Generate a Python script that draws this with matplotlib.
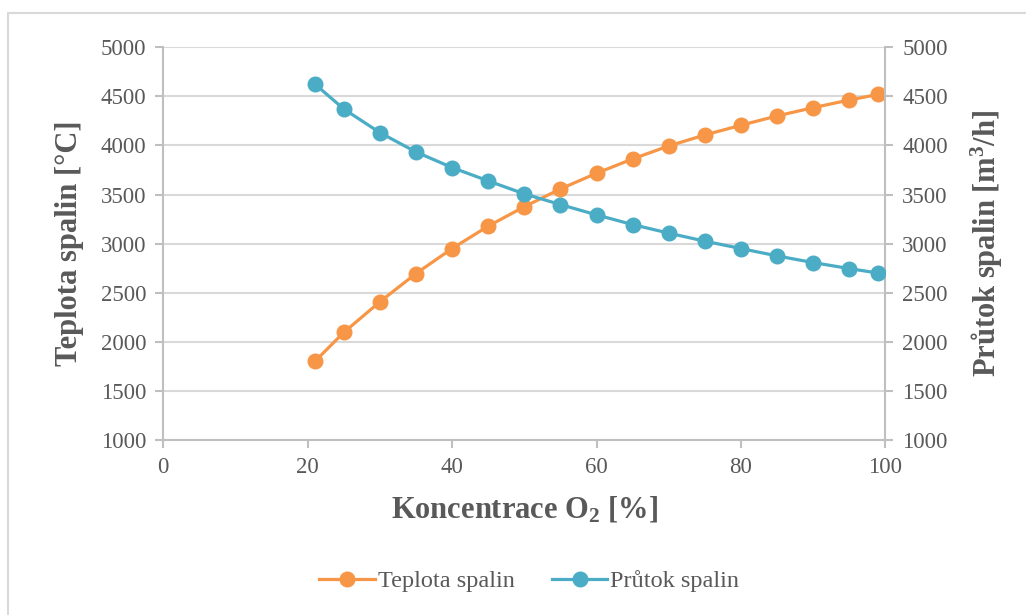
import matplotlib
matplotlib.use("Agg")
import matplotlib.pyplot as plt
from matplotlib.patches import Rectangle

# O2 concentration [%]
koncentrace = [21, 25, 30, 35, 40, 45, 50, 55, 60, 65, 70, 75, 80, 85, 90, 95, 99]
# Flue gas temperature [°C]
teplota = [1800, 2095, 2407, 2695, 2950, 3178, 3376, 3557, 3717, 3863, 3995,
           4107, 4206, 4301, 4385, 4463, 4520]
# Flue gas flow [m3/h]
prutok = [4626, 4372, 4131, 3934, 3775, 3639, 3507, 3398, 3293, 3194, 3107,
          3025, 2950, 2875, 2807, 2746, 2700]

x_ticks = [0, 20, 40, 60, 80, 100]
y_ticks = [1000, 1500, 2000, 2500, 3000, 3500, 4000, 4500, 5000]

ORANGE = "#F79646"
BLUE = "#4BACC6"
TEXT = "#595959"
GRID = "#D9D9D9"
SPINE = "#BFBFBF"

plt.rcParams["font.family"] = ["Liberation Serif", "DejaVu Serif"]
plt.rcParams["mathtext.fontset"] = "custom"
plt.rcParams["mathtext.rm"] = "Liberation Serif"
plt.rcParams["mathtext.it"] = "Liberation Serif:italic"
plt.rcParams["mathtext.bf"] = "Liberation Serif:bold"

fig = plt.figure(figsize=(10.26, 6.15), dpi=100)
fig.patches.append(Rectangle((8 / 1026, -0.1), 1.2, 1 - 13 / 615 + 0.1,
                             transform=fig.transFigure, fill=False,
                             edgecolor=GRID, linewidth=1.5))

ax = fig.add_axes([0.159, 0.2846, 0.704, 0.6385])
ax2 = ax.twinx()

l1, = ax.plot(koncentrace, teplota, color=ORANGE, linewidth=2.3, marker="o",
              markersize=10.5, label="Teplota spalin", zorder=3)
l2, = ax2.plot(koncentrace, prutok, color=BLUE, linewidth=2.3, marker="o",
               markersize=10.5, label="Průtok spalin", zorder=3)

for a in (ax, ax2):
    a.set_ylim(1000, 5000)
    a.set_yticks(y_ticks)
    a.tick_params(axis="both", colors=SPINE, labelcolor=TEXT, labelsize=16.5,
                  length=6, width=1.5, direction="out", pad=6)
    for s in a.spines.values():
        s.set_visible(False)

ax.set_xlim(0, 100)
ax.set_xticks(x_ticks)
ax.grid(axis="y", color=GRID, linewidth=1.5)
ax.set_axisbelow(True)
for side in ("left", "bottom"):
    ax.spines[side].set_visible(True)
    ax.spines[side].set_color(SPINE)
    ax.spines[side].set_linewidth(1.5)
ax2.spines["right"].set_visible(True)
ax2.spines["right"].set_color(SPINE)
ax2.spines["right"].set_linewidth(1.5)

ax.set_xlabel(r"Koncentrace O$_\mathbf{2}$ [%]", fontsize=22, fontweight="bold",
              color=TEXT, labelpad=12)
ax.set_ylabel("Teplota spalin [°C]", fontsize=22, fontweight="bold",
              color=TEXT, labelpad=12)
ax2.set_ylabel(r"Průtok spalin [m$^\mathbf{3}$/h]", fontsize=22,
               fontweight="bold", color=TEXT, labelpad=15, rotation=90)

fig.legend(handles=[l1, l2], loc="center", bbox_to_anchor=(0.516, 0.055),
           ncol=2, frameon=False, fontsize=17.5, labelcolor=TEXT,
           handlelength=2.3, columnspacing=1.5, handletextpad=0.12)

fig.savefig("out.png", dpi=100)
